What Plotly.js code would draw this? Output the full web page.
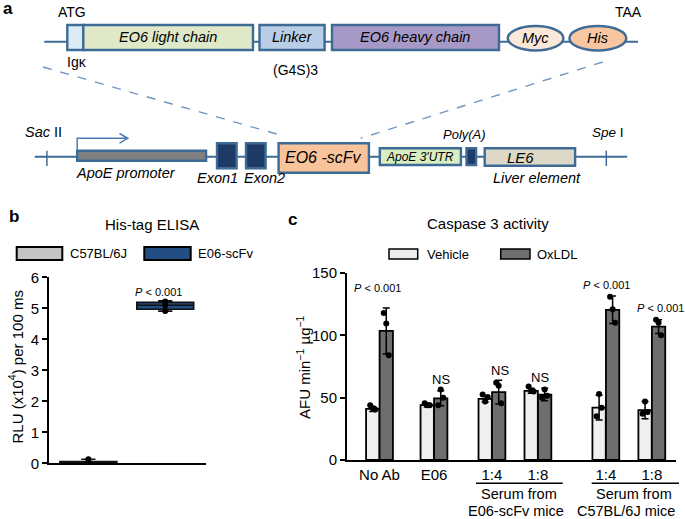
<!DOCTYPE html>
<html>
<head>
<meta charset="utf-8">
<script src="https://cdn.plot.ly/plotly-3.0.1.min.js"></script>
<style>html,body{margin:0;padding:0;background:#fff;}#chart{width:685px;height:519px;}</style>
</head>
<body>
<div id="chart"></div>
<script>
// ---------- Panel b data (His-tag ELISA) ----------
const bGroups = ['C57BL/6J', 'E06-scFv'];
const bQ1 = [0.00, 4.97];
const bMedian = [0.03, 5.10];
const bQ3 = [0.06, 5.19];
const bLow = [0.00, 4.91];
const bHigh = [0.13, 5.24];
const bPoints = [[0.02, 0.13, 0.04], [5.22, 5.10, 4.91]];
const bPText = ['', '<i>P</i> < 0.001'];

// ---------- Panel c data (Caspase 3 activity) ----------
const cLabels = ['No Ab', 'E06', '1:4', '1:8', '1:4', '1:8'];
const cSeries = ['Vehicle', 'OxLDL'];
const vehMean = [41, 44, 49, 55.5, 42, 40];
const vehErr = [2, 1.5, 2.5, 2, 10, 7];
const vehPts = [[44, 41.5, 40.5], [45.5, 44, 44], [52.5, 47, 50.5], [59, 55.5, 55], [35, 53, 42], [37, 47, 38.5]];
const oxMean = [103.5, 49.5, 54.5, 52.5, 120.5, 107];
const oxErr = [18.5, 6, 9.5, 5, 11, 5.5];
const oxPts = [[118, 109.5, 84], [44, 56.5, 50], [62, 59.5, 45.5], [50, 56.5, 51.5], [131, 121, 110], [112.5, 110, 100]];
const cGroupLine1 = ['Serum from', 'Serum from'];
const cGroupLine2 = ['E06-scFv mice', 'C57BL/6J mice'];
const cStats = ['<i>P</i> < 0.001', 'NS', 'NS', 'NS', '<i>P</i> < 0.001', '<i>P</i> < 0.001'];

// ---------- layout constants ----------
const W = 685, H = 519;
const FONT = 'Liberation Sans, Arial, Helvetica, sans-serif';
const fx = x => x / W;
const fy = y => 1 - y / H;
const groupX = [0, 1.185, 2.446, 3.446, 4.924, 5.924];
const barW = 0.29, off = 0.147;
const jit = [-0.055, 0, 0.055];
const vehColor = '#efefef', oxColor = '#6e6e6e';

const traces = [];
// panel b boxes
const bFill = ['#c4c4c4', '#234e84'];
bGroups.forEach((g, i) => {
  traces.push({
    type: 'box', x: [g], q1: [bQ1[i]], median: [bMedian[i]], q3: [bQ3[i]],
    lowerfence: [bLow[i]], upperfence: [bHigh[i]],
    fillcolor: bFill[i], line: {color: '#111', width: 1.6}, whiskerwidth: 0.25,
    width: 0.74, boxpoints: false, xaxis: 'x', yaxis: 'y', showlegend: false, hoverinfo: 'skip'
  });
  traces.push({
    type: 'scatter', mode: 'markers', x: bPoints[i].map(() => g), y: bPoints[i],
    marker: {color: '#000', size: 6}, xaxis: 'x', yaxis: 'y', showlegend: false, hoverinfo: 'skip'
  });
});
// panel c bars
const series = [
  {name: cSeries[0], mean: vehMean, err: vehErr, pts: vehPts, color: vehColor, shift: -off},
  {name: cSeries[1], mean: oxMean, err: oxErr, pts: oxPts, color: oxColor, shift: off}
];
series.forEach(s => {
  traces.push({
    type: 'bar', name: s.name, x: groupX.map(g => g + s.shift), y: s.mean, width: barW,
    marker: {color: s.color, line: {color: '#000', width: 1.8}},
    error_y: {type: 'data', array: s.err, visible: true, color: '#000', thickness: 1.5, width: 3.5},
    xaxis: 'x2', yaxis: 'y2', showlegend: false, hoverinfo: 'skip'
  });
  const px = [], py = [];
  s.pts.forEach((arr, gi) => arr.forEach((v, j) => { px.push(groupX[gi] + s.shift + jit[j]); py.push(v); }));
  traces.push({
    type: 'scatter', mode: 'markers', x: px, y: py, marker: {color: '#000', size: 6},
    xaxis: 'x2', yaxis: 'y2', showlegend: false, hoverinfo: 'skip'
  });
});

// ---------- shapes ----------
const shapes = [];
const lineBlue = '#3e6b96';
function rect(x0, y0, x1, y1, fill, lc, lw) {
  shapes.push({type: 'rect', xref: 'paper', yref: 'paper', x0: fx(x0), x1: fx(x1), y0: fy(y1), y1: fy(y0),
    fillcolor: fill, line: {color: lc || lineBlue, width: lw === undefined ? 2.4 : lw}});
}
function ell(x0, y0, x1, y1, fill) {
  shapes.push({type: 'circle', xref: 'paper', yref: 'paper', x0: fx(x0), x1: fx(x1), y0: fy(y1), y1: fy(y0),
    fillcolor: fill, line: {color: lineBlue, width: 2.4}});
}
function seg(x0, y0, x1, y1, color, width, dash) {
  shapes.push({type: 'line', xref: 'paper', yref: 'paper', x0: fx(x0), x1: fx(x1), y0: fy(y0), y1: fy(y1),
    line: {color: color, width: width, dash: dash || 'solid'}});
}
// panel a top construct
seg(44.3, 41.7, 638, 41.7, lineBlue, 2);
rect(67.3, 25, 83.3, 50, '#dcecf5');
rect(83.3, 25, 253, 50, '#dfe9c8');
rect(259.5, 25, 324.6, 50, '#b9cde6');
rect(332, 25, 499, 50, '#a698c7');
ell(507.8, 26, 563.4, 50.5, '#fbe8d8');
ell(569.4, 26, 626.3, 50.5, '#f8c6a0');
// dashed zoom lines
seg(43, 67, 280, 135, '#7395bf', 1.4, 'dash');
seg(602.8, 62, 360.7, 138.3, '#7395bf', 1.4, 'dash');
// panel a lower construct
seg(34.8, 156.7, 627.2, 156.7, lineBlue, 2);
seg(46.9, 150.7, 46.9, 166, lineBlue, 1.5);
seg(606.3, 150.7, 606.3, 166, lineBlue, 1.5);
rect(77.2, 150.7, 206.1, 160.7, '#808080');
shapes.push({type: 'path', xref: 'paper', yref: 'paper',
  path: `M ${fx(77.2)} ${fy(150.7)} L ${fx(77.2)} ${fy(138.3)} L ${fx(127.6)} ${fy(138.3)} M ${fx(119.5)} ${fy(133.5)} L ${fx(127.8)} ${fy(138.3)} L ${fx(119.5)} ${fy(143.1)}`,
  line: {color: '#4a7db3', width: 1.5}});
rect(217, 143.3, 236.6, 168.3, '#1e3a66');
rect(246, 143.3, 265.6, 168.3, '#1e3a66');
rect(278.6, 143.3, 368.9, 172.7, '#f9c49c');
rect(379.8, 148.3, 460.9, 165, '#d8edc0');
rect(466.5, 148.3, 476.1, 165, '#1e3a66');
rect(484.7, 148.3, 575.1, 165.7, '#ddd9c6');

// panel b legend boxes
rect(16.7, 247, 62.3, 260, bFill[0], '#000', 2);
rect(144.3, 247, 190.7, 260, bFill[1], '#000', 2);
// panel c legend boxes
rect(389, 249, 417.7, 259, vehColor, '#000', 1.5);
rect(500.7, 249, 530, 259, oxColor, '#000', 1.5);
// panel c group underlines
seg(476, 483.3, 562.7, 483.3, '#000', 1.5);
seg(591.7, 483.3, 679, 483.3, '#000', 1.5);

// ---------- annotations ----------
const ann = [];
function txt(x, y, text, size, opts) {
  ann.push(Object.assign({xref: 'paper', yref: 'paper', x: fx(x), y: fy(y), text: text, showarrow: false,
    xanchor: 'center', yanchor: 'middle', borderpad: 0, font: {family: FONT, size: size, color: '#000'}}, opts || {}));
}
// panel a
txt(8, 8, '<b>a</b>', 17);
txt(71.6, 12.5, 'ATG', 14);
txt(628.5, 12.5, 'TAA', 14);
txt(168, 37.5, '<i>EO6 light chain</i>', 14.5);
txt(292, 37.5, '<i>Linker</i>', 14.5);
txt(415.3, 37.5, '<i>EO6 heavy chain</i>', 14.5);
txt(535.5, 38.3, '<i>Myc</i>', 14.5);
txt(597.6, 38.3, '<i>His</i>', 14.5);
txt(65.5, 62.5, 'Igκ', 14, {xanchor: 'left'});
txt(295.2, 69.5, '(G4S)3', 14);
txt(43, 132.3, '<i>Sac</i> II', 14.5);
txt(608, 132.3, '<i>Spe</i> I', 13.5);
txt(125.9, 173.3, '<i>ApoE promoter</i>', 14.5);
txt(217, 177.8, '<i>Exon1</i>', 14.5);
txt(264.7, 177.8, '<i>Exon2</i>', 14.5);
txt(323.8, 157.8, '<i>EO6 -scFv</i>', 16);
txt(420.3, 156.7, "<i>ApoE 3'UTR</i>", 12);
txt(464.4, 135, '<i>Poly(A)</i>', 13);
txt(520.8, 157, '<i>LE6</i>', 15);
txt(537.3, 177.8, '<i>Liver element</i>', 14.5);
// panel b
txt(8, 216.7, '<b>b</b>', 17, {xanchor: 'left'});
txt(151.7, 224.3, 'His-tag ELISA', 15);
txt(69.3, 253.5, bGroups[0], 13, {xanchor: 'left'});
txt(196.7, 253.5, bGroups[1], 13, {xanchor: 'left'});
txt(15.5, 367, 'RLU (x10<sup>4</sup>) per 100 ms', 15, {textangle: -90});
bPText.forEach((t, i) => { if (t) txt(158.3, 291.7, t, 11); });
// panel c
txt(287, 219, '<b>c</b>', 17, {xanchor: 'left'});
txt(488, 224, 'Caspase 3 activity', 15);
txt(426, 254, cSeries[0], 13, {xanchor: 'left'});
txt(536, 254, cSeries[1], 13, {xanchor: 'left'});
txt(303, 367, 'AFU min<sup>−1</sup> µg<sup>−1</sup>', 15, {textangle: -90});
txt(519.3, 494, cGroupLine1[0], 14.5);
txt(634.3, 494, cGroupLine1[1], 14.5);
txt(516, 510.5, cGroupLine2[0], 14.5);
txt(626, 510.5, cGroupLine2[1], 14.5);
const statPos = [[377.3, 287.7], [441, 379], [500, 370.7], [540, 377.3], [606.7, 285], [660, 308.3]];
cStats.forEach((t, i) => txt(statPos[i][0], statPos[i][1], t, t === 'NS' ? 13 : 11));

const layout = {
  width: W, height: H, margin: {l: 0, r: 0, t: 0, b: 0},
  paper_bgcolor: '#fff', plot_bgcolor: 'rgba(0,0,0,0)',
  font: {family: FONT, size: 14, color: '#000'},
  showlegend: false, barmode: 'overlay', boxmode: 'overlay',
  xaxis: {domain: [fx(49), fx(206)], type: 'category', categoryarray: bGroups, range: [-0.512, 1.53],
    showticklabels: false, ticks: '', showline: true, linewidth: 2, linecolor: '#000', showgrid: false,
    zeroline: false, anchor: 'y', fixedrange: true},
  yaxis: {domain: [fy(463.3), fy(277.3)], range: [0, 6], dtick: 1, tick0: 0, ticks: 'outside', ticklen: 5,
    tickwidth: 2, tickcolor: '#000', showline: true, linewidth: 2, linecolor: '#000', showgrid: false,
    zeroline: false, tickfont: {size: 15}, anchor: 'x'},
  xaxis2: {domain: [fx(347), fx(676)], range: [-0.707, 6.45], tickvals: groupX, ticktext: cLabels,
    ticks: '', showline: true, linewidth: 2, linecolor: '#000', showgrid: false, zeroline: false,
    tickfont: {size: 15}, anchor: 'y2'},
  yaxis2: {domain: [fy(460), fy(273)], range: [0, 150], tickvals: [0, 50, 100, 150], ticks: 'outside',
    ticklen: 5, tickwidth: 2, tickcolor: '#000', showline: true, linewidth: 2, linecolor: '#000',
    showgrid: false, zeroline: false, tickfont: {size: 15}, anchor: 'x2'},
  shapes: shapes, annotations: ann
};
Plotly.newPlot('chart', traces, layout, {displayModeBar: false, staticPlot: true});
</script>
</body>
</html>
